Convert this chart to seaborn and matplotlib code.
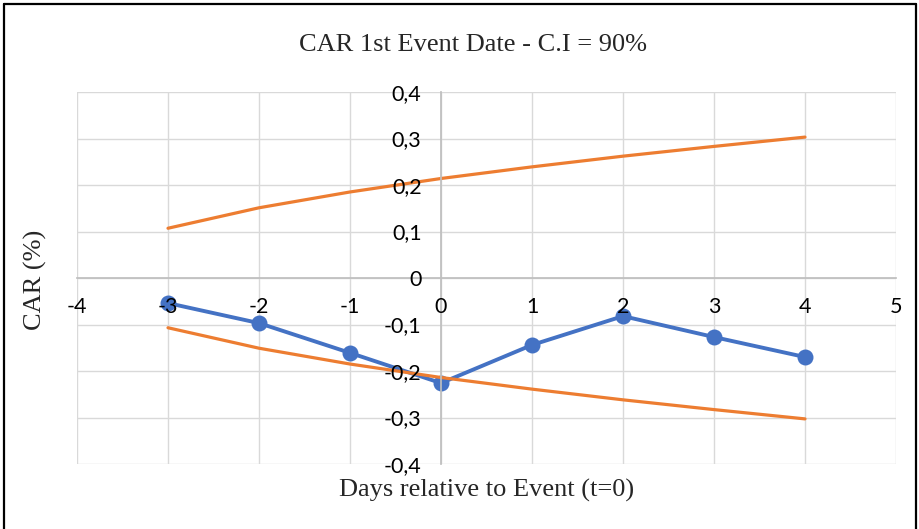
import matplotlib
matplotlib.use("Agg")
import matplotlib.pyplot as plt
from matplotlib.lines import Line2D
from matplotlib.ticker import FuncFormatter
import seaborn as sns
import pandas as pd

# Event-window days and cumulative abnormal returns
days = [-3, -2, -1, 0, 1, 2, 3, 4]
car = [-0.054, -0.097, -0.161, -0.226, -0.144, -0.082, -0.127, -0.170]
ci_upper = [0.107, 0.151, 0.185, 0.214, 0.239, 0.262, 0.283, 0.303]
ci_lower = [-0.107, -0.151, -0.185, -0.214, -0.239, -0.262, -0.283, -0.303]
x_ticks = [-4, -3, -2, -1, 0, 1, 2, 3, 4, 5]
y_ticks = [-0.4, -0.3, -0.2, -0.1, 0.0, 0.1, 0.2, 0.3, 0.4]

title = "CAR 1st Event Date - C.I = 90%"
x_label = "Days relative to Event (t=0)"
y_label = "CAR (%)"

df = pd.DataFrame({"day": days, "car": car, "upper": ci_upper, "lower": ci_lower})

sns.set_theme(style="white")
plt.rcParams["font.family"] = ["Lato", "DejaVu Sans"]

fig = plt.figure(figsize=(9.19, 5.29), dpi=100)
rect = [77 / 919, 1 - 464 / 529, (896 - 77) / 919, (464 - 92) / 529]
ax = fig.add_axes(rect)

blue = "#4472C4"
orange = "#ED7D31"
grid = "#D9D9D9"

# CAR series first, confidence bounds drawn over it
sns.lineplot(data=df, x="day", y="car", ax=ax, color=blue, linewidth=2.8,
             marker="o", markersize=11.5, markeredgewidth=0)
sns.lineplot(data=df, x="day", y="upper", ax=ax, color=orange, linewidth=2.3)
sns.lineplot(data=df, x="day", y="lower", ax=ax, color=orange, linewidth=2.3)

fmt = FuncFormatter(lambda v, p: ("%g" % round(v, 2)).replace(".", ","))


def setup(a):
    a.set_xlim(-4, 5)
    a.set_ylim(-0.4, 0.4)
    a.set_xticks(x_ticks)
    a.set_yticks(y_ticks)
    a.xaxis.set_major_formatter(fmt)
    a.yaxis.set_major_formatter(fmt)
    for side in ["top", "right"]:
        a.spines[side].set_visible(False)
    a.spines["left"].set_position(("data", 0))
    a.spines["bottom"].set_position(("data", 0))
    a.tick_params(axis="both", length=0, labelsize=15.5, colors="black")
    a.tick_params(axis="x", pad=14)
    a.tick_params(axis="y", pad=14)
    a.set_xlabel("")
    a.set_ylabel("")


# Base axes: gridlines and zero axes beneath the data
setup(ax)
ax.grid(True, color=grid, linewidth=1.0)
ax.set_axisbelow(True)
ax.spines["left"].set_color("#BFBFBF")
ax.spines["bottom"].set_color("#BFBFBF")
ax.tick_params(labelbottom=False, labelleft=False)

# Overlay axes: tick labels above the data
ax2 = fig.add_axes(rect, zorder=3)
setup(ax2)
ax2.patch.set_visible(False)
ax2.spines["left"].set_visible(False)
ax2.spines["bottom"].set_visible(False)

fig.text(473 / 919, 1 - 45 / 529, title, ha="center", va="center",
         fontsize=19, family="Liberation Serif")
fig.text(487 / 919, 1 - 490 / 529, x_label, ha="center", va="center",
         fontsize=19, family="Liberation Serif")
fig.text(35 / 919, 1 - 280 / 529, y_label, ha="center", va="center",
         rotation=90, fontsize=19, family="Liberation Serif")

# Chart-area frame
for xs, ys in [([4, 4], [0, 525]), ([4, 916], [525, 525]), ([916, 916], [0, 525])]:
    fig.add_artist(Line2D([x / 919 for x in xs], [y / 529 for y in ys],
                          color="black", linewidth=1.6))

fig.savefig("out.png", dpi=100)
